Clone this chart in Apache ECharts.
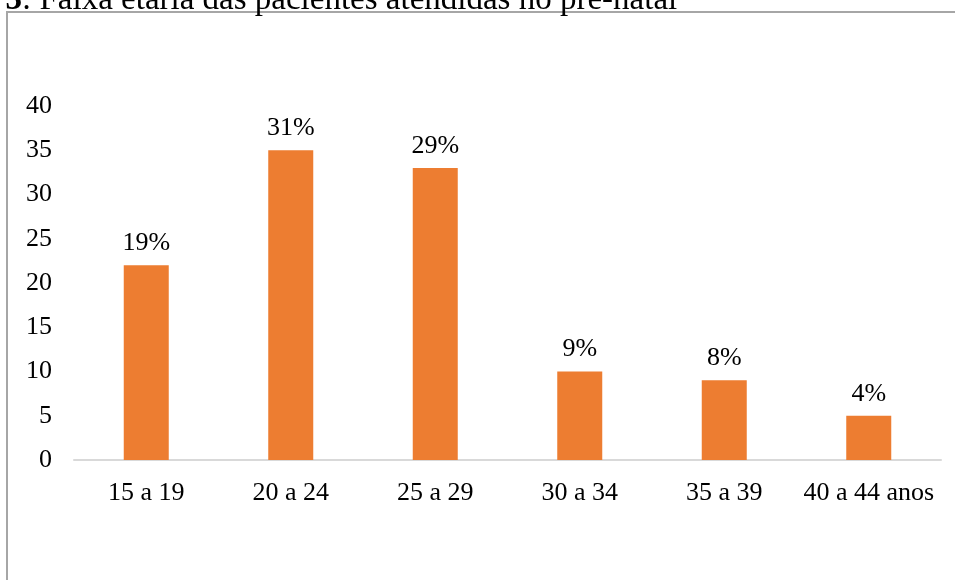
<!DOCTYPE html>
<html>
<head>
<meta charset="utf-8">
<script src="https://cdn.jsdelivr.net/npm/echarts@6/dist/echarts.min.js"></script>
<style>
  html, body { margin: 0; padding: 0; background: #fff; }
  #chart { width: 955px; height: 580px; }
</style>
</head>
<body>
<div id="chart"></div>
<script>
// Age ranges of prenatal patients (counts per range)
const categories = ['15 a 19', '20 a 24', '25 a 29', '30 a 34', '35 a 39', '40 a 44 anos'];
const patients = [22, 35, 33, 10, 9, 5];
const yTicks = { min: 0, max: 40, interval: 5 };

const total = patients.reduce((a, b) => a + b, 0);
const serif = '"Liberation Serif", "Times New Roman", serif';

const chart = echarts.init(document.getElementById('chart'));
chart.setOption({
  animation: false,
  backgroundColor: '#fff',
  graphic: [
    {
      type: 'rect',
      shape: { x: 7, y: 12, width: 1000, height: 700 },
      style: { fill: 'none', stroke: '#a6a6a6', lineWidth: 2 },
      silent: true
    },
    {
      type: 'text',
      left: -98,
      top: -16,
      style: {
        text: '{b|Figura 3}: Faixa etária das pacientes atendidas no pré-natal',
        font: '33px ' + serif,
        fill: '#000',
        rich: { b: { fontWeight: 'bold', fontSize: 33, fontFamily: serif } }
      }
    }
  ],
  grid: { left: 74, right: 14, top: 106, bottom: 120 },
  xAxis: {
    type: 'category',
    data: categories,
    axisLine: { lineStyle: { color: '#d9d9d9', width: 2 } },
    axisTick: { show: false },
    axisLabel: { color: '#000', fontFamily: serif, fontSize: 26, margin: 20, interval: 0 }
  },
  yAxis: {
    type: 'value',
    min: yTicks.min,
    max: yTicks.max,
    interval: yTicks.interval,
    splitLine: { show: false },
    axisLine: { show: false },
    axisTick: { show: false },
    axisLabel: { color: '#000', fontFamily: serif, fontSize: 26, margin: 22 }
  },
  series: [{
    type: 'bar',
    data: patients,
    barWidth: 45,
    itemStyle: { color: '#ED7D31' },
    label: {
      show: true,
      position: 'top',
      distance: 9,
      color: '#000',
      fontFamily: serif,
      fontSize: 26,
      formatter: p => Math.round(p.value / total * 100) + '%'
    }
  }]
});
</script>
</body>
</html>
